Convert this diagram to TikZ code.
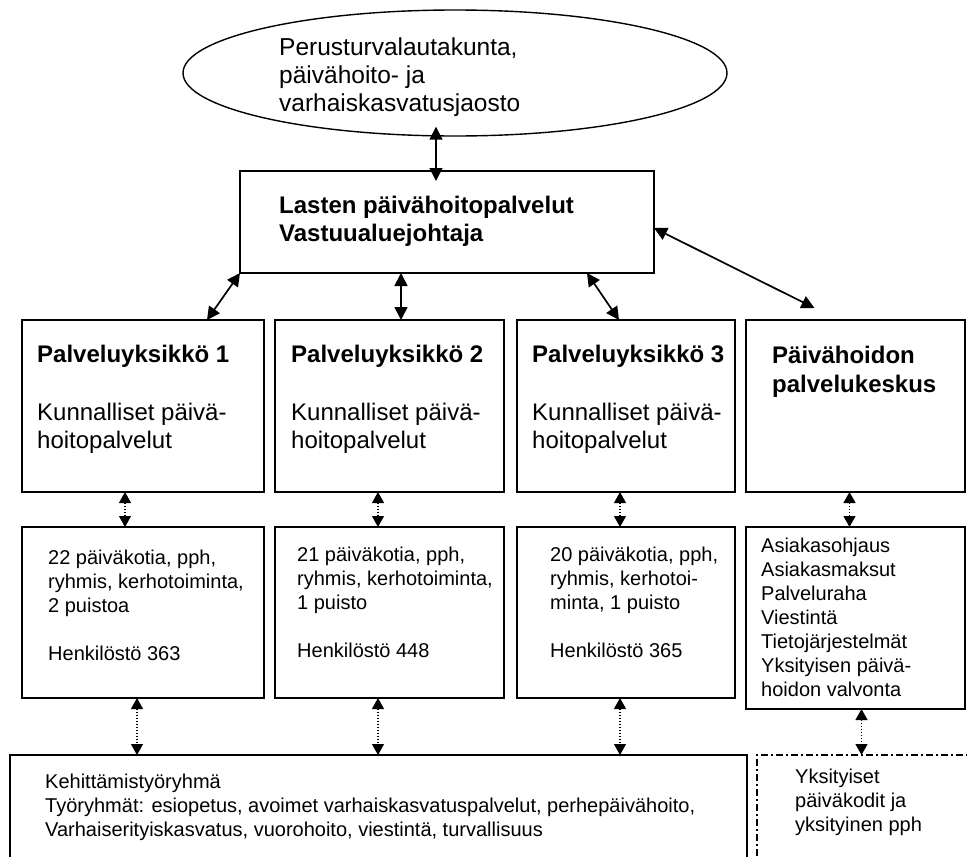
\documentclass[tikz,border=0pt]{standalone}
\usepackage{fontspec}
\setmainfont{Liberation Sans}
\usetikzlibrary{shapes.geometric,arrows.meta,fit}
\begin{document}
\begin{tikzpicture}[x=1pt,y=-1pt,
  frame/.style={draw,line width=1.6pt,inner sep=0pt,outer sep=0pt},
  dashdotframe/.style={draw,line width=1.5pt,inner sep=0pt,outer sep=0pt,
    dash pattern=on 7pt off 3pt on 2pt off 3pt},
  biarrow/.style={line width=1.7pt,{Triangle[width=13pt,length=13pt]}-{Triangle[width=13pt,length=13pt]}},
  dotarrow/.style={line width=1.2pt,dash pattern=on 1.2pt off 1.8pt,
    {Triangle[width=12pt,length=11pt]}-{Triangle[width=12pt,length=11pt]}},
  big/.style={anchor=base west,inner sep=0pt,align=left,font=\fontsize{24}{28}\selectfont},
  small/.style={anchor=base west,inner sep=0pt,align=left,font=\fontsize{20}{24}\selectfont}]
\useasboundingbox (0,0) rectangle (967,857);
\clip (0,0) rectangle (967,857);

% committee and management (text nodes are placed by the baseline of their last line)
\node[draw,ellipse,line width=1.4pt,inner sep=0pt,minimum width=544pt,minimum height=126pt] (ell) at (455,73) {};
\node[big,font=\fontsize{24.5}{28}\selectfont] (elltext) at (279,111) {Perusturvalautakunta,\\päivähoito- ja\\varhaiskasvatusjaosto};

\node[frame,fit={(240,171)(654,273)}] (main) {};
\node[big,font=\bfseries\fontsize{24}{28}\selectfont] (maintext) at (279,241) {Lasten päivähoitopalvelut\\Vastuualuejohtaja};

% service units
\node[frame,fit={(22,320)(264,492)}] (b1) {};
\node[frame,fit={(275,320)(504,492)}] (b2) {};
\node[frame,fit={(517,320)(735,492)}] (b3) {};
\node[frame,fit={(746,320)(965,492)}] (b4) {};

\node[big] (b1text) at (37,448) {\textbf{Palveluyksikkö 1}\\[30pt]Kunnalliset päivä-\\hoitopalvelut};
\node[big] (b2text) at (291,448) {\textbf{Palveluyksikkö 2}\\[30pt]Kunnalliset päivä-\\hoitopalvelut};
\node[big] (b3text) at (532,448) {\textbf{Palveluyksikkö 3}\\[30pt]Kunnalliset päivä-\\hoitopalvelut};
\node[big,font=\bfseries\fontsize{24}{29}\selectfont] (b4text) at (772,392) {Päivähoidon\\palvelukeskus};

% unit contents
\node[frame,fit={(22,527)(264,698)}] (c1) {};
\node[frame,fit={(275,527)(504,698)}] (c2) {};
\node[frame,fit={(517,527)(735,698)}] (c3) {};
\node[frame,fit={(746,527)(965,709)}] (c4) {};

\node[small] (c1text) at (48,660) {22 päiväkotia, pph,\\ryhmis, kerhotoiminta,\\2 puistoa\\[24pt]Henkilöstö 363};
\node[small] (c2text) at (297,657) {21 päiväkotia, pph,\\ryhmis, kerhotoiminta,\\1 puisto\\[24pt]Henkilöstö 448};
\node[small] (c3text) at (550,657) {20 päiväkotia, pph,\\ryhmis, kerhotoi-\\minta, 1 puisto\\[24pt]Henkilöstö 365};
\node[small] (c4text) at (761,696) {Asiakasohjaus\\Asiakasmaksut\\Palveluraha\\Viestintä\\Tietojärjestelmät\\Yksityisen päivä-\\hoidon valvonta};

% working groups and private day care
\node[frame,fit={(10,755)(747,890)}] (dev) {};
\node[dashdotframe,fit={(757,755)(995,890)}] (priv) {};
\node[small] (devtext) at (45,836) {Kehittämistyöryhmä\\Työryhmät: esiopetus, avoimet varhaiskasvatuspalvelut, perhepäivähoito,\\Varhaiserityiskasvatus, vuorohoito, viestintä, turvallisuus};
\node[small] (privtext) at (795,831) {Yksityiset\\päiväkodit ja\\yksityinen pph};

% solid connectors
\draw[biarrow] ([xshift=-19pt,yshift=10pt]ell.south) -- ([xshift=-11pt,yshift=-10pt]main.north);
\draw[biarrow] (main.south west) -- ([xshift=64pt]b1.north);
\draw[biarrow] ([xshift=-46pt]main.south) -- ([xshift=11.5pt]b2.north);
\draw[biarrow] ([xshift=140pt]main.south) -- ([xshift=-7pt]b3.north);
\draw[biarrow] ([yshift=-6pt]main.east) -- ([xshift=-41pt,yshift=12pt]b4.north);

% dotted connectors
\draw[dotarrow] ([xshift=-18pt]b1.south) -- ([xshift=-18pt]c1.north);
\draw[dotarrow] ([xshift=-11.5pt]b2.south) -- ([xshift=-11.5pt]c2.north);
\draw[dotarrow] ([xshift=-6pt]b3.south) -- ([xshift=-6pt]c3.north);
\draw[dotarrow] ([xshift=-6pt]b4.south) -- ([xshift=-6pt]c4.north);

\draw[dotarrow] ([xshift=-6pt]c1.south) -- ([xshift=-6pt]c1.south |- dev.north);
\draw[dotarrow] ([xshift=-11.5pt]c2.south) -- ([xshift=-11.5pt]c2.south |- dev.north);
\draw[dotarrow] ([xshift=-6pt]c3.south) -- ([xshift=-6pt]c3.south |- dev.north);
\draw[dotarrow] ([xshift=6pt]c4.south) -- ([xshift=6pt]c4.south |- priv.north);
\end{tikzpicture}
\end{document}
